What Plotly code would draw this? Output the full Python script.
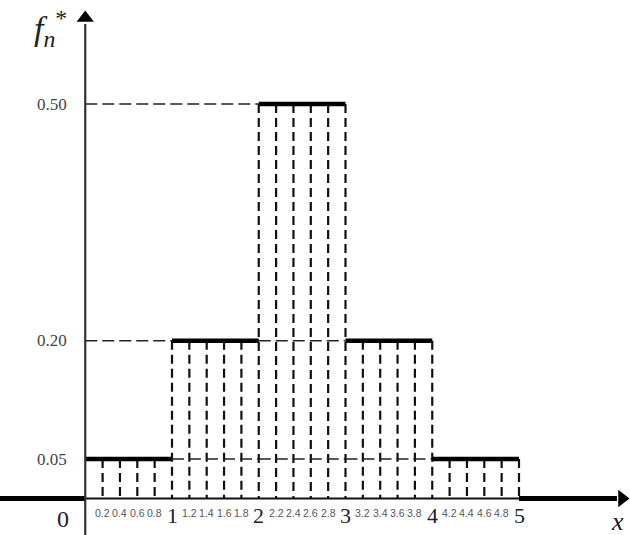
import plotly.graph_objects as go

# ---- data ----
bin_edges = [0, 1, 2, 3, 4, 5]
freqs = [0.05, 0.20, 0.50, 0.20, 0.05]
y_tick_vals = [0.05, 0.20, 0.50]
y_tick_text = ["0.05", "0.20", "0.50"]
major_x = [1, 2, 3, 4, 5]
major_x_text = ["1", "2", "3", "4", "5"]
minor_x = [0.2, 0.4, 0.6, 0.8, 1.2, 1.4, 1.6, 1.8, 2.2, 2.4, 2.6, 2.8,
           3.2, 3.4, 3.6, 3.8, 4.2, 4.4, 4.6, 4.8]
minor_x_text = ["0.2", "0.4", "0.6", "0.8", "1.2", "1.4", "1.6", "1.8",
                "2.2", "2.4", "2.6", "2.8", "3.2", "3.4", "3.6", "3.8",
                "4.2", "4.4", "4.6", "4.8"]

# ---- pixel helpers (figure is 630x535 with zero margins) ----
X0, SX = 85.25, 86.75
Y0, SY = 498.5, 789.0
def px(p):
    return (p - X0) / SX
def py(p):
    return (Y0 - p) / SY

xr = [px(0), px(630)]
yr = [py(535), py(0)]

fig = go.Figure()

def height_at(x):
    """height of dashed vertical at x"""
    h = 0
    for i in range(len(freqs)):
        a, b = bin_edges[i], bin_edges[i + 1]
        if a - 1e-9 <= x <= b + 1e-9:
            h = max(h, freqs[i])
    return h

# vertical dashed lines
vx, vy = [], []
for x in minor_x + major_x:
    h = height_at(x)
    vx += [x, x, None]
    vy += [h, 0, None]
fig.add_trace(go.Scatter(x=vx, y=vy, mode="lines",
                         line=dict(color="#111", width=2.2, dash="9px,5px"),
                         hoverinfo="skip", showlegend=False))

# horizontal dashed lines
hx, hy = [], []
for v in y_tick_vals:
    for i, f in enumerate(freqs):
        if f >= v - 1e-9:
            if bin_edges[i] > 0:
                hx += [0, bin_edges[i], None]
                hy += [v, v, None]
            break
    for i, f in enumerate(freqs):
        if f > v + 1e-9:
            hx += [bin_edges[i], bin_edges[i + 1], None]
            hy += [v, v, None]
fig.add_trace(go.Scatter(x=hx, y=hy, mode="lines",
                         line=dict(color="#222", width=1.5, dash="12px,5px"),
                         hoverinfo="skip", showlegend=False))

# thick tops of the histogram
tx, ty = [], []
for i, f in enumerate(freqs):
    tx += [bin_edges[i], bin_edges[i + 1], None]
    ty += [f, f, None]
fig.add_trace(go.Scatter(x=tx, y=ty, mode="lines",
                         line=dict(color="#000", width=4.5),
                         hoverinfo="skip", showlegend=False))

# x axis
fig.add_trace(go.Scatter(x=[px(0), 0], y=[0, 0], mode="lines",
                         line=dict(color="#000", width=5),
                         hoverinfo="skip", showlegend=False))
fig.add_trace(go.Scatter(x=[0, bin_edges[-1]], y=[0, 0], mode="lines",
                         line=dict(color="#111", width=2),
                         hoverinfo="skip", showlegend=False))
fig.add_trace(go.Scatter(x=[bin_edges[-1], px(617)], y=[0, 0], mode="lines",
                         line=dict(color="#000", width=5),
                         hoverinfo="skip", showlegend=False))
fig.add_trace(go.Scatter(x=[px(622)], y=[0], mode="markers",
                         marker=dict(symbol="triangle-right", size=15, color="#000"),
                         hoverinfo="skip", showlegend=False))

# y axis
fig.add_trace(go.Scatter(x=[0, 0], y=[py(535), py(24)], mode="lines",
                         line=dict(color="#333", width=2.2),
                         hoverinfo="skip", showlegend=False))
fig.add_trace(go.Scatter(x=[0], y=[py(18)], mode="markers",
                         marker=dict(symbol="triangle-up", size=15, color="#000"),
                         hoverinfo="skip", showlegend=False))

ann = []
serif = "Liberation Serif"
for v, t in zip(y_tick_vals, y_tick_text):
    ann.append(dict(x=px(52), y=v, text=t, showarrow=False, xanchor="center",
                    yanchor="middle", font=dict(family=serif, size=17, color="#444")))
for v, t in zip(major_x, major_x_text):
    ann.append(dict(x=v, y=py(515), text=t, showarrow=False, xanchor="center",
                    yanchor="middle", font=dict(family=serif, size=22, color="#222")))
for v, t in zip(minor_x, minor_x_text):
    ann.append(dict(x=v, y=py(513), text=t, showarrow=False, xanchor="center",
                    yanchor="middle",
                    font=dict(family="Liberation Sans Narrow, Liberation Sans", size=10.5, color="#555")))
ann.append(dict(x=px(63), y=py(519), text="0", showarrow=False, xanchor="center",
                yanchor="middle", font=dict(family=serif, size=24, color="#222")))
ann.append(dict(x=px(617), y=py(521), text="<i>x</i>", showarrow=False, xanchor="center",
                yanchor="middle", font=dict(family=serif, size=26, color="#222")))
ann.append(dict(x=px(50), y=py(28), text="<i>f</i><sub><i>n</i></sub><sup>*</sup>",
                showarrow=False, xanchor="center", yanchor="middle",
                font=dict(family=serif, size=34, color="#222")))

fig.update_layout(
    width=630, height=535,
    margin=dict(l=0, r=0, t=0, b=0),
    paper_bgcolor="white", plot_bgcolor="white",
    xaxis=dict(range=xr, visible=False, fixedrange=True),
    yaxis=dict(range=yr, visible=False, fixedrange=True),
    annotations=ann,
    showlegend=False,
)

fig.write_html("out.html", config={"displayModeBar": False},
               post_script="document.body.style.margin='0';document.body.style.overflow='hidden';")
